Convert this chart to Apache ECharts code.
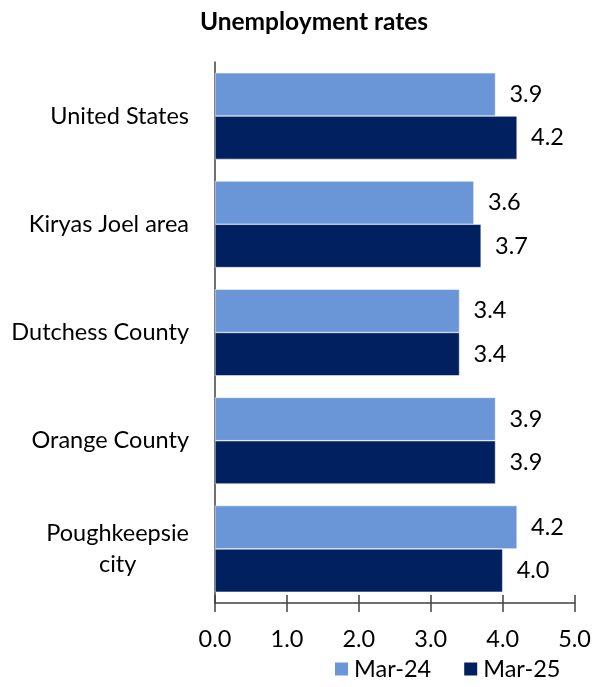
<!DOCTYPE html>
<html><head><meta charset="utf-8">
<script src="https://cdn.jsdelivr.net/npm/echarts@6/dist/echarts.min.js"></script>
<style>html,body{margin:0;padding:0;background:#fff}#c{width:594px;height:687px}</style>
</head><body><div id="c"></div>
<script>
const categories = ['United States', 'Kiryas Joel area', 'Dutchess County', 'Orange County', 'Poughkeepsie\ncity'];
const mar24 = [3.9, 3.6, 3.4, 3.9, 4.2];
const mar25 = [4.2, 3.7, 3.4, 3.9, 4.0];
const seriesNames = ['Mar-24', 'Mar-25'];
const font = 'Lato, "Open Sans", sans-serif';
const chart = echarts.init(document.getElementById('c'));
const lbl = {show:true, position:'right', distance:14, color:'#000', fontSize:23.5, fontFamily:font, formatter: p => p.value.toFixed(1)};
chart.setOption({
  animation:false,
  title:{text:'Unemployment rates', left:309, textAlign:'center', top:5, textStyle:{fontFamily:font, fontWeight:'bold', fontSize:24.5, color:'#000'}},
  legend:{bottom:1, left:328, itemWidth:15, itemHeight:15, itemGap:31, icon:'rect', textStyle:{fontFamily:font, fontSize:23.5, color:'#000'}, data:seriesNames},
  grid:{left:215, right:19, top:62, bottom:84},
  xAxis:[{type:'value', min:0, max:5, interval:1, position:'bottom',
    axisLine:{show:true, lineStyle:{color:'#404040', width:1.5}},
    axisTick:{show:true, length:9, lineStyle:{color:'#404040', width:1.5}},
    splitLine:{show:false},
    axisLabel:{formatter:v=>v.toFixed(1), fontFamily:font, fontSize:23.5, color:'#000', margin:24}},
   {type:'value', min:0, max:5, interval:1, position:'bottom', gridIndex:0,
    axisLine:{show:false}, axisTick:{show:true, inside:true, length:8, lineStyle:{color:'#404040', width:1.5}},
    axisLabel:{show:false}, splitLine:{show:false}}],
  yAxis:{type:'category', inverse:true, data:categories,
    axisLine:{show:true, lineStyle:{color:'#404040', width:1.5}},
    axisTick:{show:false},
    axisLabel:{margin:26, align:'right',
      formatter: v => v.split('\n').map(s => '{c|' + s + '}').join('\n'),
      rich:{c:{fontFamily:font, fontSize:23.5, color:'#000', lineHeight:31, align:'center'}}}},
  series:[
    {name:seriesNames[0], type:'bar', data:mar24, barGap:'0%', barCategoryGap:'20%', itemStyle:{color:'#6A96D8', borderColor:'#ffffff', borderWidth:0.5}, label:lbl},
    {name:seriesNames[1], type:'bar', data:mar25, itemStyle:{color:'#00205F', borderColor:'#ffffff', borderWidth:0.5}, label:lbl}
  ]
});
</script></body></html>
